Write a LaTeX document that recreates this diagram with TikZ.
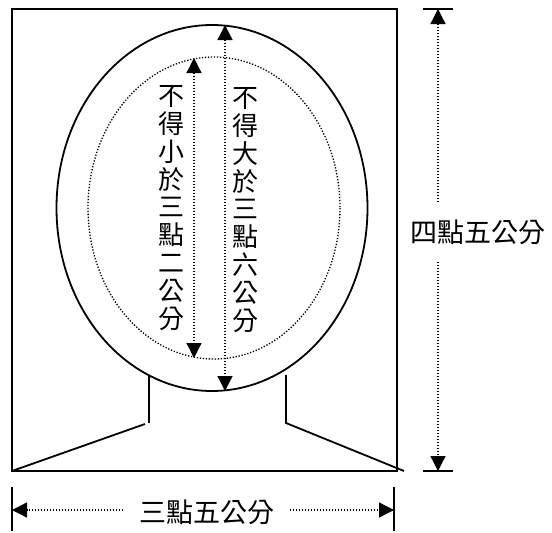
\documentclass[tikz,border=0pt]{standalone}
\usepackage{fontspec}
\newfontfamily\cjk{Noto Sans CJK TC}
\usetikzlibrary{positioning, arrows.meta}

\tikzset{
  frame/.style={line width=1.8pt},
  dots/.style={line width=1.3pt, dash pattern=on 1.3pt off 1.7pt},
  tip/.style={-{Triangle[length=15pt,width=15pt]}},
  vtext/.style={font=\cjk\fontsize{26pt}{27.8pt}\selectfont, align=center, inner sep=0pt},
  dimlab/.style={font=\cjk\fontsize{27pt}{27pt}\selectfont, inner sep=0pt}
}

\begin{document}
\begin{tikzpicture}[x=1pt, y=-1pt]
        \useasboundingbox (0,0) rectangle (552,533);

        % photo frame, head and shoulders
        \draw[frame] (12,9) rectangle (397,471);
        \draw[frame] (212,208) ellipse [x radius=155.5, y radius=183];
        \draw[dots] (214,208) ellipse [x radius=126, y radius=151];
        \draw[frame] (149,375) -- (149,423);
        \draw[frame] (145,424) -- (12,471);
        \draw[frame] (286,375) -- (286,423) -- (404,471);

        % head heights
        \coordinate (maxtop) at (225,25);
        \coordinate (maxbot) at (225,391);
        \coordinate (mintop) at (194,58);
        \coordinate (minbot) at (194,358);
        \draw[dots, {Triangle[length=15pt,width=15pt]}-{Triangle[length=15pt,width=15pt]}] (maxtop) -- (maxbot);
        \draw[dots, {Triangle[length=15pt,width=15pt]}-{Triangle[length=15pt,width=15pt]}] (mintop) -- (minbot);
        \node[vtext] (minlab) at (171,208) {不\\得\\小\\於\\三\\點\\二\\公\\分};
        \node[vtext] (maxlab) at (245,210) {不\\得\\大\\於\\三\\點\\六\\公\\分};

        % height of photo
        \coordinate (htop) at (438,9);
        \coordinate (hbot) at (438,471);
        \draw[frame] ([xshift=-15pt]htop) -- ([xshift=15pt]htop);
        \draw[frame] ([xshift=-15pt]hbot) -- ([xshift=15pt]hbot);
        \node[dimlab] (hlab) at (478,232) {四點五公分};
        \coordinate (hgapa) at (438,202);
        \coordinate (hgapb) at (438,262);
        \draw[dots, tip] (hgapa) -- (htop);
        \draw[dots, tip] (hgapb) -- (hbot);

        % width of photo
        \coordinate (wleft) at (12,510);
        \coordinate (wright) at (394,510);
        \draw[frame] ([yshift=-21pt]wleft) -- ([yshift=23pt]wleft);
        \draw[frame] ([yshift=-21pt]wright) -- ([yshift=23pt]wright);
        \node[dimlab] (wlab) at (207,512) {三點五公分};
        \coordinate (wgapa) at (123,510);
        \coordinate (wgapb) at (290,510);
        \draw[dots, tip] (wgapa) -- (wleft);
        \draw[dots, tip] (wgapb) -- (wright);
    \end{tikzpicture}
\end{document}
